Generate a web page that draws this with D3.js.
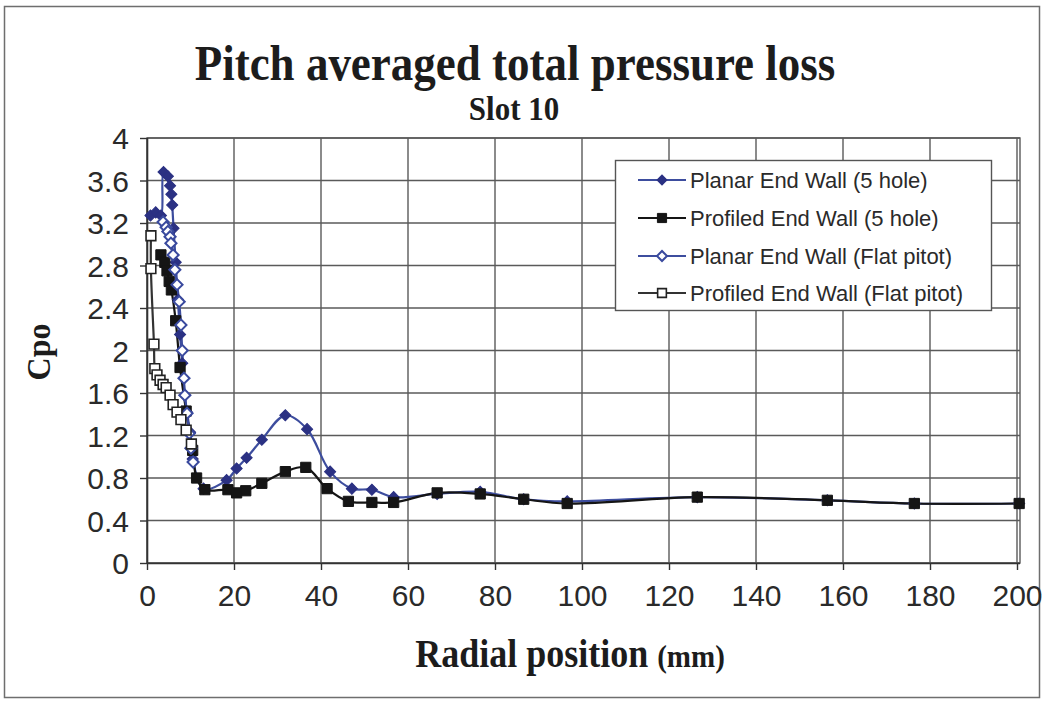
<!DOCTYPE html>
<html>
<head>
<meta charset="utf-8">
<script src="https://cdn.jsdelivr.net/npm/d3@7"></script>
<style>
  html, body { margin: 0; padding: 0; background: #fff; }
  svg { display: block; }
</style>
</head>
<body>
<svg id="chart" width="1045" height="701"></svg>
<script>
// ---- Data ----
const xTicks = [0, 20, 40, 60, 80, 100, 120, 140, 160, 180, 200];
const yTicks = [0, 0.4, 0.8, 1.2, 1.6, 2, 2.4, 2.8, 3.2, 3.6, 4];
const yTickLabels = ["0", "0.4", "0.8", "1.2", "1.6", "2", "2.4", "2.8", "3.2", "3.6", "4"];

const seriesNames = [
  "Planar End Wall (5 hole)",
  "Profiled End Wall (5 hole)",
  "Planar End Wall (Flat pitot)",
  "Profiled End Wall (Flat pitot)"
];

const planar5X = [0.8, 2.0, 3.2, 3.8, 4.8, 5.3, 5.6, 5.8, 6.1, 6.6, 7.1, 7.6, 8.1, 8.7, 9.2, 9.9, 10.5, 13.0, 18.3, 20.6, 22.9, 26.4, 31.8, 36.8, 42.1, 47.1, 51.7, 56.7, 66.7, 76.6, 86.6, 96.6, 126.5, 156.4, 176.4, 200.5];
const planar5Y = [3.27, 3.30, 3.27, 3.68, 3.64, 3.55, 3.47, 3.37, 3.15, 2.83, 2.48, 2.15, 1.88, 1.58, 1.42, 1.23, 0.98, 0.70, 0.78, 0.89, 0.99, 1.16, 1.39, 1.26, 0.86, 0.70, 0.69, 0.62, 0.65, 0.67, 0.60, 0.58, 0.62, 0.59, 0.56, 0.56];

const profiled5X = [3.2, 4.1, 4.6, 5.1, 5.6, 6.6, 7.6, 9.0, 10.5, 11.4, 13.3, 18.6, 20.6, 22.7, 26.4, 31.8, 36.5, 41.4, 46.3, 51.7, 56.7, 66.7, 76.6, 86.6, 96.6, 126.5, 156.4, 176.4, 200.5];
const profiled5Y = [2.90, 2.83, 2.75, 2.65, 2.57, 2.28, 1.84, 1.43, 1.06, 0.80, 0.69, 0.69, 0.66, 0.68, 0.75, 0.86, 0.90, 0.70, 0.58, 0.57, 0.57, 0.66, 0.65, 0.60, 0.56, 0.62, 0.59, 0.56, 0.56];

const planarPitotX = [3.7, 4.4, 4.8, 5.3, 5.5, 6.0, 6.4, 6.9, 7.4, 7.8, 8.1, 8.5, 8.7, 9.2, 9.7, 10.1, 10.6];
const planarPitotY = [3.21, 3.16, 3.12, 3.07, 3.01, 2.90, 2.76, 2.62, 2.46, 2.24, 2.00, 1.74, 1.58, 1.41, 1.22, 1.08, 0.95];

const profiledPitotX = [0.9, 0.9, 1.6, 1.8, 2.3, 3.0, 3.7, 4.4, 5.3, 6.0, 6.9, 7.8, 9.0, 10.2];
const profiledPitotY = [3.08, 2.77, 2.06, 1.83, 1.77, 1.72, 1.68, 1.65, 1.58, 1.49, 1.42, 1.35, 1.25, 1.12];

// ---- Layout ----
const svg = d3.select("#chart");
const pL = 147, pR = 1017, pRB = 1020, pT = 138, pB = 563;

const x = d3.scaleLinear().domain([0, 200]).range([pL, pR]);
const y = d3.scaleLinear().domain([0, 4]).range([pB, pT]);

// outer border
svg.append("rect").attr("x", 4.5).attr("y", 6.5).attr("width", 1035).attr("height", 691)
  .attr("fill", "#fff").attr("stroke", "#6e6e6e").attr("stroke-width", 1.5);

// gridlines
const gridColor = "#5a5a5a";
svg.append("g").selectAll("line").data(yTicks).join("line")
  .attr("x1", pL).attr("x2", pRB)
  .attr("y1", d => y(d)).attr("y2", d => y(d))
  .attr("stroke", gridColor).attr("stroke-width", 1.4);
svg.append("g").selectAll("line").data(xTicks).join("line")
  .attr("x1", d => x(d)).attr("x2", d => x(d))
  .attr("y1", pT).attr("y2", pB)
  .attr("stroke", gridColor).attr("stroke-width", 1.4);
svg.append("rect").attr("x", pL).attr("y", pT).attr("width", pRB - pL).attr("height", pB - pT)
  .attr("fill", "none").attr("stroke", gridColor).attr("stroke-width", 1.4);

// axes
const xAxis = d3.axisBottom(x).tickValues(xTicks).tickSize(7).tickFormat(d3.format("d"));
const gx = svg.append("g").attr("transform", `translate(0,${pB})`).call(xAxis);
gx.select(".domain").attr("stroke", "#333").attr("stroke-width", 1.6).attr("d", `M${pL},0.5H${pRB}`);
gx.selectAll(".tick line").attr("stroke", "#333").attr("stroke-width", 1.4);
gx.selectAll(".tick text").attr("y", 43).attr("dy", 0)
  .attr("font-family", "'Liberation Sans', Arial, sans-serif").attr("font-size", 30).attr("fill", "#2a2a2a");

const yAxis = d3.axisLeft(y).tickValues(yTicks).tickSize(7).tickFormat((d, i) => yTickLabels[i]);
const gy = svg.append("g").attr("transform", `translate(${pL},0)`).call(yAxis);
gy.select(".domain").attr("stroke", "#333").attr("stroke-width", 1.6).attr("d", `M0.5,${pT}V${pB}`);
gy.selectAll(".tick line").attr("stroke", "#333").attr("stroke-width", 1.4);
gy.selectAll(".tick text").attr("x", -18).attr("dy", "0.35em")
  .attr("font-family", "'Liberation Sans', Arial, sans-serif").attr("font-size", 30).attr("fill", "#2a2a2a");

// titles (serif, slightly stretched vertically like the scanned original)
const serif = "'Liberation Serif', 'Times New Roman', serif";
svg.append("text").attr("transform", "translate(515,80) scale(1,1.12)").attr("text-anchor", "middle")
  .attr("font-family", serif).attr("font-weight", "bold")
  .attr("font-size", 45).attr("fill", "#1c1c1c").text("Pitch averaged total pressure loss");
svg.append("text").attr("transform", "translate(514,120) scale(1,1.1)").attr("text-anchor", "middle")
  .attr("font-family", serif).attr("font-weight", "bold")
  .attr("font-size", 31).attr("fill", "#1c1c1c").text("Slot 10");
svg.append("text").attr("transform", "translate(50,352) rotate(-90) scale(1,1.05)").attr("text-anchor", "middle")
  .attr("font-family", serif).attr("font-weight", "bold")
  .attr("font-size", 32).attr("fill", "#1c1c1c").text("Cpo");
const xl = svg.append("text").attr("transform", "translate(570,667) scale(1,1.1)").attr("text-anchor", "middle")
  .attr("font-family", serif).attr("font-weight", "bold")
  .attr("fill", "#1c1c1c");
xl.append("tspan").attr("font-size", 36).text("Radial position ");
xl.append("tspan").attr("font-size", 29).text("(mm)");

// series
const blueLine = "#3d4d9e", navy = "#2b3183", blk = "#151515";
const series = [
  { name: seriesNames[0], xs: planar5X, ys: planar5Y, stroke: blueLine, marker: "diamond", fill: navy, mstroke: navy },
  { name: seriesNames[1], xs: profiled5X, ys: profiled5Y, stroke: blk, marker: "square", fill: blk, mstroke: blk },
  { name: seriesNames[2], xs: planarPitotX, ys: planarPitotY, stroke: blueLine, marker: "diamond", fill: "#fff", mstroke: "#3a4a9e" },
  { name: seriesNames[3], xs: profiledPitotX, ys: profiledPitotY, stroke: "#333", marker: "square", fill: "#fff", mstroke: "#222" }
];

const line = d3.line().x(d => x(d[0])).y(d => y(d[1])).curve(d3.curveCatmullRom.alpha(0.5));

function drawMarker(g, s, cx, cy, scale) {
  const sc = scale || 1;
  if (s.marker === "diamond") {
    g.append("path").attr("d", d3.symbol().type(d3.symbolSquare).size(62 * sc)())
      .attr("transform", `translate(${cx},${cy}) rotate(45)`)
      .attr("fill", s.fill).attr("stroke", s.mstroke).attr("stroke-width", s.fill === "#fff" ? 2 : 1);
  } else {
    g.append("path").attr("d", d3.symbol().type(d3.symbolSquare).size((s.fill === "#fff" ? 95 : 105) * sc)())
      .attr("transform", `translate(${cx},${cy})`)
      .attr("fill", s.fill).attr("stroke", s.mstroke).attr("stroke-width", s.fill === "#fff" ? 1.6 : 1);
  }
}

series.forEach(s => {
  const pts = s.xs.map((v, i) => [v, s.ys[i]]);
  svg.append("path").datum(pts).attr("d", line)
    .attr("fill", "none").attr("stroke", s.stroke).attr("stroke-width", 2.2);
});
series.forEach(s => {
  const g = svg.append("g");
  s.xs.forEach((v, i) => drawMarker(g, s, x(v), y(s.ys[i])));
});

// legend
const lg = svg.append("g");
lg.append("rect").attr("x", 615.5).attr("y", 160.5).attr("width", 376).attr("height", 150)
  .attr("fill", "#fff").attr("stroke", "#555").attr("stroke-width", 1.4);
const rowsY = [180, 218, 256, 293];
series.forEach((s, i) => {
  lg.append("line").attr("x1", 638).attr("x2", 686).attr("y1", rowsY[i]).attr("y2", rowsY[i])
    .attr("stroke", s.stroke).attr("stroke-width", 2);
  drawMarker(lg, s, 662, rowsY[i], 0.8);
  lg.append("text").attr("x", 690).attr("y", rowsY[i]).attr("dy", "0.36em")
    .attr("font-family", "'Liberation Sans', Arial, sans-serif").attr("font-size", 22)
    .attr("fill", "#2a2a2a").text(s.name);
});
</script>
</body>
</html>
